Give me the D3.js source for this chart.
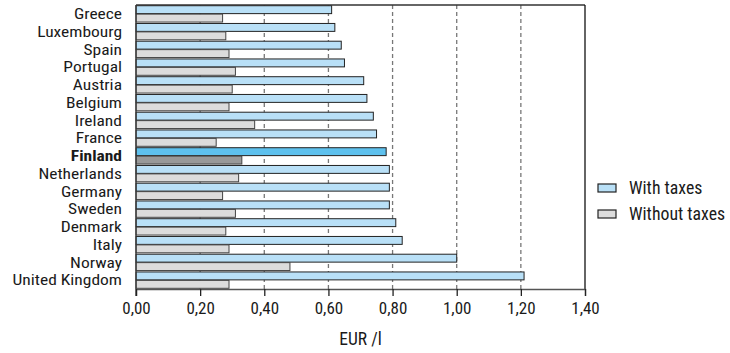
<!DOCTYPE html>
<html><head><meta charset="utf-8">
<script src="https://cdn.jsdelivr.net/npm/d3@7"></script>
<style>
body{margin:0;background:#fff;}
text{font-family:"Liberation Sans Narrow","Roboto Condensed","Arial Narrow",sans-serif;}
</style></head>
<body><svg id="c" width="730" height="353"></svg>
<script>
const countries = ["Greece","Luxembourg","Spain","Portugal","Austria","Belgium","Ireland","France","Finland","Netherlands","Germany","Sweden","Denmark","Italy","Norway","United Kingdom"];
const withTaxes = [0.61,0.62,0.64,0.65,0.71,0.72,0.74,0.75,0.78,0.79,0.79,0.79,0.81,0.83,1.00,1.21];
const withoutTaxes = [0.27,0.28,0.29,0.31,0.30,0.29,0.37,0.25,0.33,0.32,0.27,0.31,0.28,0.29,0.48,0.29];
const xTicks = [0,0.2,0.4,0.6,0.8,1.0,1.2,1.4];
const seriesNames = ["With taxes","Without taxes"];
const highlight = "Finland";

const svg = d3.select("#c");
const L=136,R=585,T=5,B=289;
const x = d3.scaleLinear().domain([0,1.4]).range([L,R]);
const y = d3.scaleBand().domain(countries).range([T,B]).paddingInner(0.08).paddingOuter(0.04);
const sub = d3.scaleBand().domain([0,1]).range([0,y.bandwidth()]).paddingInner(0.06);

// gridlines
svg.append("g").selectAll("line").data(xTicks.filter(d=>d>0&&d<1.4)).join("line")
  .attr("x1",d=>x(d)).attr("x2",d=>x(d)).attr("y1",T).attr("y2",B)
  .attr("stroke","#777").attr("stroke-width",1.3).attr("stroke-dasharray","4,3");

// bars
const rows = countries.map((c,i)=>({c,vals:[withTaxes[i],withoutTaxes[i]]}));
const g = svg.append("g").selectAll("g").data(rows).join("g")
  .attr("transform",d=>`translate(0,${y(d.c)})`);
g.selectAll("rect").data(d=>d.vals.map((v,k)=>({v,k,c:d.c}))).join("rect")
  .attr("x",x(0)).attr("y",d=>sub(d.k)).attr("height",sub.bandwidth())
  .attr("width",d=>x(d.v)-x(0))
  .attr("fill",d=>d.c===highlight?(d.k===0?"#5ec1ee":"#999999"):(d.k===0?"#b9e0f7":"#dcdcdc"))
  .attr("stroke",d=>d.k===0?"#222":"#444").attr("stroke-width",1);

// frame
svg.append("line").attr("x1",L).attr("x2",R).attr("y1",T).attr("y2",T).attr("stroke","#333").attr("stroke-width",1.3);
svg.append("line").attr("x1",R).attr("x2",R).attr("y1",T).attr("y2",B).attr("stroke","#111").attr("stroke-width",1.3);
svg.append("line").attr("x1",L).attr("x2",L).attr("y1",T).attr("y2",B+7).attr("stroke","#333").attr("stroke-width",1.3);

// x axis
const xa = svg.append("g").attr("transform",`translate(0,${B})`)
  .call(d3.axisBottom(x).tickValues(xTicks).tickSize(7).tickPadding(6)
    .tickFormat(d=>d3.format(".2f")(d).replace(".",",")));
xa.select(".domain").attr("stroke","#555").attr("stroke-width",1.3);
xa.selectAll(".tick line").attr("stroke","#222").attr("stroke-width",1.3);
xa.selectAll("text").attr("font-size",17).attr("fill","#1a1a1a")
  .attr("font-family",'"Liberation Sans Narrow","Roboto Condensed",sans-serif');

svg.append("text").attr("x",(L+R)/2).attr("y",345).attr("text-anchor","middle")
  .attr("font-size",17.5).attr("fill","#1a1a1a").text("EUR /l");

// y labels (slightly stretched horizontally to match the reference's wide condensed face)
svg.append("g").selectAll("text").data(countries).join("text")
  .attr("transform",d=>`translate(122,${y(d)+y.bandwidth()/2}) scale(1.15,1)`)
  .attr("dy","0.35em")
  .attr("text-anchor","end").attr("font-size",15.2).attr("fill","#1a1a1a")
  .attr("font-weight",d=>d===highlight?"bold":"normal").text(d=>d);

// legend
const lg = svg.append("g").selectAll("g").data(seriesNames).join("g")
  .attr("transform",(d,i)=>`translate(598,${184+i*26})`);
lg.append("rect").attr("width",18).attr("height",8)
  .attr("fill",(d,i)=>i===0?"#b9e0f7":"#dcdcdc").attr("stroke","#222").attr("stroke-width",1.2);
lg.append("text").attr("x",31).attr("y",4).attr("dy","0.35em").attr("font-size",17.8).attr("fill","#1a1a1a").text(d=>d);
</script></body></html>
